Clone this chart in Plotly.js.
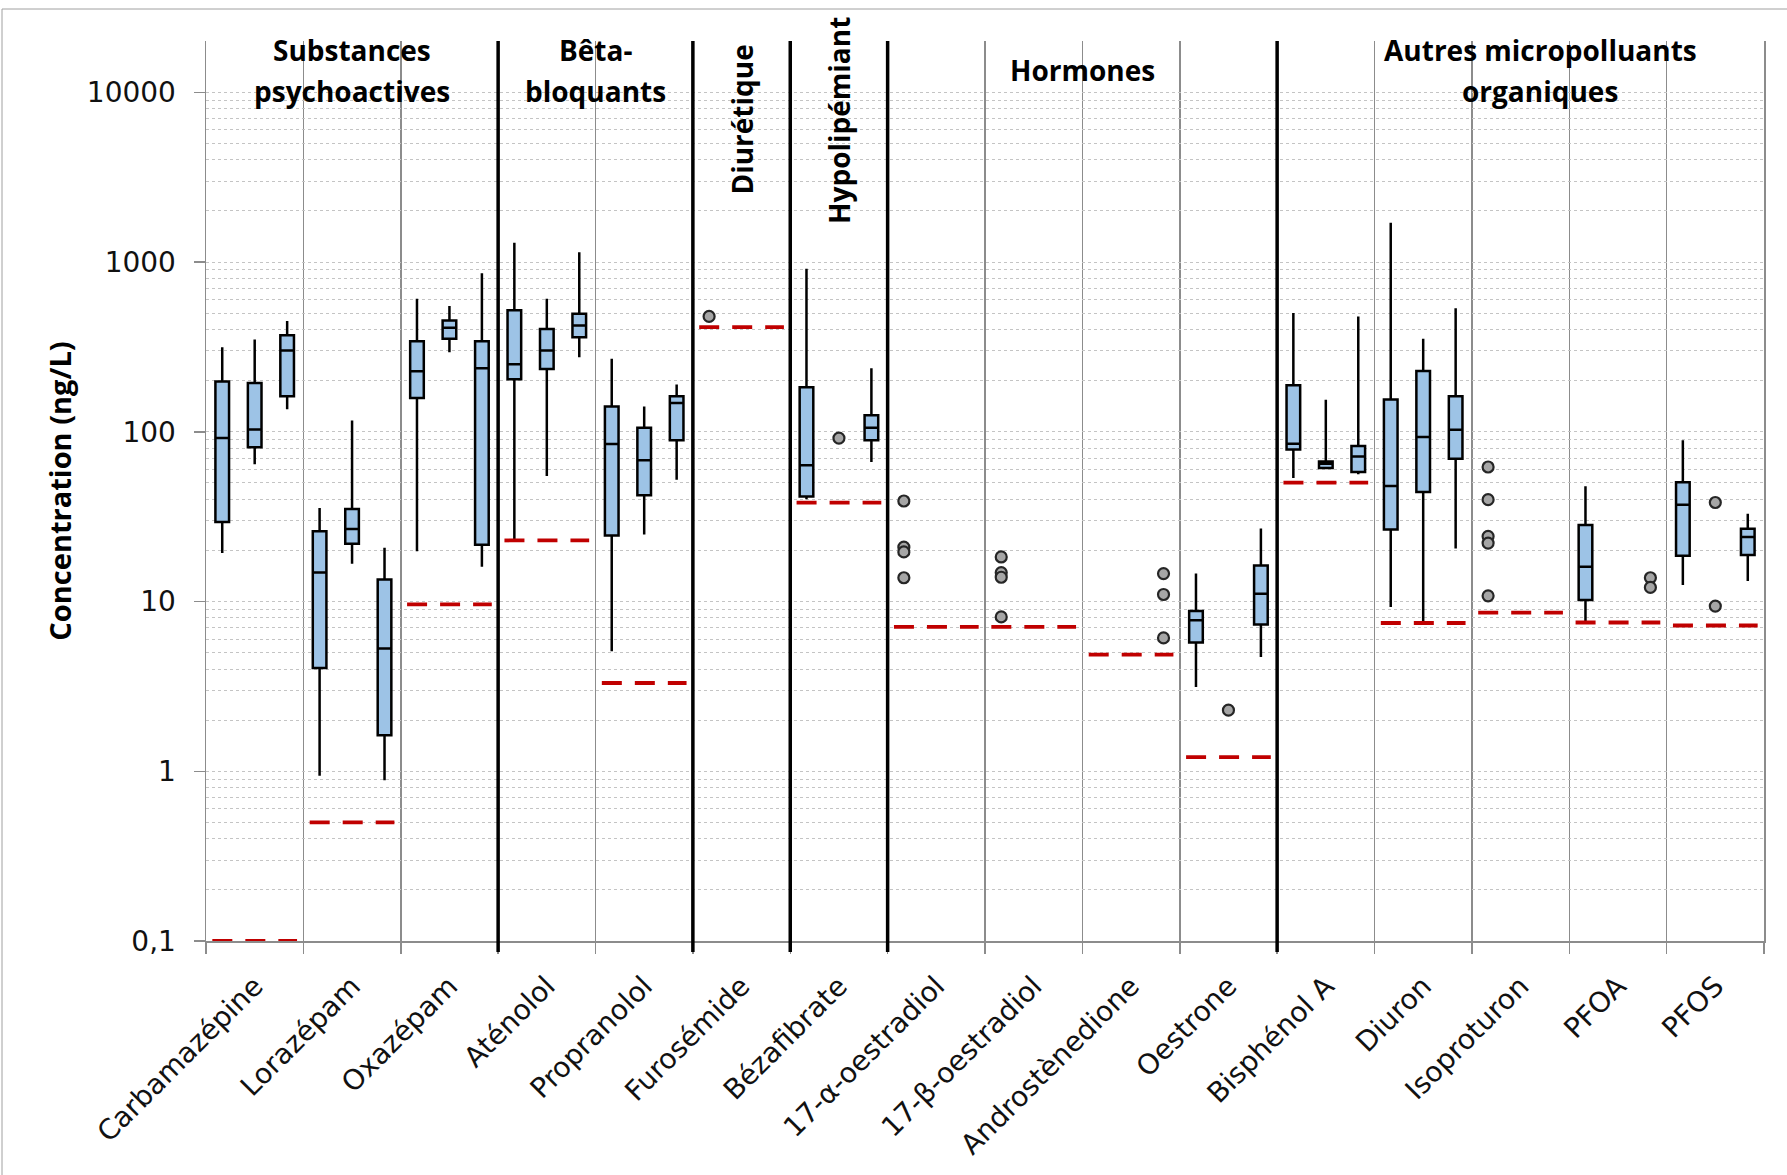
<!DOCTYPE html>
<html>
<head>
<meta charset="utf-8">
<script src="https://cdn.plot.ly/plotly-3.0.1.min.js"></script>
<style>html,body{margin:0;padding:0;background:#fff;}</style>
</head>
<body>
<div id="chart" style="width:1787px;height:1175px;"></div>
<script>
// ---------- data ----------
const categories = ['Carbamazépine','Lorazépam','Oxazépam','Aténolol','Propranolol','Furosémide','Bézafibrate',
  '17-α-oestradiol','17-β-oestradiol','Androstènedione','Oestrone','Bisphénol A','Diuron','Isoproturon','PFOA','PFOS'];

const groupNames = ['Substances<br>psychoactives','Bêta-<br>bloquants','Diurétique','Hypolipémiant','Hormones','Autres micropolluants<br>organiques'];
const groupFirst = [0, 3, 5, 6, 7, 11];
const groupLast  = [2, 4, 5, 6, 10, 15];

// box statistics (ng/L); slot 0,1,2 = three boxes within a category
const boxCategory = [0,0,0, 1,1,1, 2,2,2, 3,3,3, 4,4,4, 6,6, 10,10, 11,11,11, 12,12,12, 14, 15,15];
const boxSlot     = [0,1,2, 0,1,2, 0,1,2, 0,1,2, 0,1,2, 0,2, 0,2, 0,1,2, 0,1,2, 0, 0,2];
const boxLow    = [19.3,64.3,135.5, 0.94,16.7,0.885, 19.8,294,16.0, 23,54.8,275, 5.09,24.8,52.2, 40,66.3, 3.14,4.71, 53.4,61.1,56.1, 9.28,7.47,20.5, 7.52, 12.5,13.2];
const boxQ1     = [29.4,81,162, 4.06,21.9,1.63, 158,353,21.6, 204,234,361, 24.5,42.2,89, 41.6,89, 5.73,7.31, 78.7,61.1,57.9, 26.6,44.2,69.4, 10.2, 18.6,18.8];
const boxMedian = [91.8,103,301, 14.8,26.7,5.28, 227,410,237, 250,301,422, 84.7,67.9,147.5, 63.4,105.7, 7.75,11.1, 85,64.9,71.6, 47.9,93,102.8, 16.0, 37.1,24];
const boxQ3     = [198,194,370, 25.9,35.1,13.5, 341,453,341, 519,403,496, 141,105.7,162, 183,125, 8.79,16.3, 188,66.9,82.4, 155,228,162, 28.2, 50.4,26.8];
const boxHigh   = [315,349,449, 35.5,116.7,20.7, 608,550,860, 1300,608,1143, 269,141,190, 913,237, 14.6,26.9, 500,154.6,478, 1703,353,535, 47.8, 89,32.9];

// outliers
const outlierCategory = [5, 6, 7,7,7,7, 8,8,8,8, 9,9,9, 10, 13,13,13,13,13, 14,14, 15,15];
const outlierSlot     = [0, 1, 0,0,0,0, 0,0,0,0, 2,2,2, 1, 0,0,0,0,0, 2,2, 1,1];
const outlierValue    = [478, 91.8, 39.1,20.9,19.6,13.8, 18.3,14.8,13.9,8.11, 14.6,11.0,6.10, 2.29, 62,39.8,24.2,22.1,10.8, 13.8,12.1, 38.3,9.4];

// limits of quantification (red dashed lines), one per category
const loq = [0.1, 0.50, 9.62, 22.9, 3.31, 414, 38.2, 7.08, 7.08, 4.87, 1.21, 50.1, 7.47, 8.59, 7.52, 7.22];

const yTickVals = [0.1, 1, 10, 100, 1000, 10000];
const yTickText = ['0,1', '1', '10', '100', '1000', '10000'];

// ---------- build ----------
const slotPos = (c, s) => c + (s - 1) / 3;
const boxX = boxCategory.map((c, i) => slotPos(c, boxSlot[i]));
const outX = outlierCategory.map((c, i) => slotPos(c, outlierSlot[i]));

const loqX = [], loqY = [];
loq.forEach((v, i) => { loqX.push(i - 0.435, i + 0.435, null); loqY.push(v, v, null); });

const traces = [
  {
    type: 'scatter', mode: 'lines', x: loqX, y: loqY,
    line: {color: '#c00000', width: 3.8, dash: '20px,13px'},
    hoverinfo: 'skip', showlegend: false
  },
  {
    type: 'box', x: boxX, q1: boxQ1, median: boxMedian, q3: boxQ3,
    lowerfence: boxLow, upperfence: boxHigh,
    width: 0.14, whiskerwidth: 0, boxpoints: false,
    fillcolor: '#9DC3E6', line: {color: '#000000', width: 2.5},
    hoverinfo: 'skip', showlegend: false
  },
  {
    type: 'scatter', mode: 'markers', x: outX, y: outlierValue,
    marker: {size: 11, color: '#a6a6a6', line: {color: '#262626', width: 2.2}},
    hoverinfo: 'skip', showlegend: false
  }
];

const halfTicks = [];
for (let i = 0; i <= categories.length; i++) halfTicks.push(i - 0.5);
const minorY = [];
for (let d = -1; d <= 4; d++) for (let m = 2; m <= 9; m++) minorY.push(m * Math.pow(10, d));
minorY.push(20000);

const PLOT_H = 900, PLOT_W = 1558, ML = 206, MT = 41;
const pxToPaperY = py => (MT + PLOT_H - py) / PLOT_H;
const shapes = [];
groupLast.slice(0, -1).forEach(g => {
  shapes.push({type: 'line', xref: 'x', yref: 'paper', x0: g + 0.5, x1: g + 0.5, y0: -11 / PLOT_H, y1: 1,
    line: {color: '#000000', width: 3.5}, layer: 'above'});
});
// chart-area border
shapes.push({type: 'rect', xref: 'paper', yref: 'paper',
  x0: (2 - ML) / PLOT_W, x1: (1795 - ML) / PLOT_W, y0: pxToPaperY(1185), y1: pxToPaperY(9),
  line: {color: '#a0a0a0', width: 1}, fillcolor: 'rgba(0,0,0,0)', layer: 'below'});

const titleFont = {family: 'Open Sans', size: 28, color: '#000000', weight: 'bold'};
const groupShift = [0, 0, 0, 0, 0, 0.2];
const groupAngle = [0, 0, -90, -90, 0, 0];
const annotations = [];
groupNames.forEach((t, i) => {
  const xc = (groupFirst[i] + groupLast[i]) / 2 + groupShift[i];
  const lines = t.split('<br>');
  let ys;
  if (groupAngle[i] !== 0) ys = [120];
  else if (lines.length === 2) ys = [50.5, 90.5];
  else ys = [70];
  lines.forEach((ln, k) => annotations.push({
    text: ln, xref: 'x', yref: 'paper', x: xc, y: pxToPaperY(ys[k]),
    xanchor: 'center', yanchor: 'middle', textangle: groupAngle[i],
    showarrow: false, font: titleFont, align: 'center'
  }));
});

const tickFont = {family: 'DejaVu Sans', size: 28, color: '#111111'};

const layout = {
  width: 1787, height: 1175,
  margin: {l: ML, r: 1787 - ML - PLOT_W, t: MT, b: 1175 - MT - PLOT_H, pad: 0},
  paper_bgcolor: '#ffffff', plot_bgcolor: '#ffffff',
  showlegend: false,
  xaxis: {
    range: [-0.5, categories.length - 0.5],
    tickmode: 'array', tickvals: categories.map((c, i) => i), ticktext: categories,
    tickangle: -45, ticks: '', tickfont: tickFont, ticklabelstandoff: 16,
    showgrid: false, zeroline: false,
    showline: true, linecolor: '#8c8c8c', linewidth: 1.5,
    minor: {tickmode: 'array', tickvals: halfTicks, ticks: 'outside', ticklen: 11, tickwidth: 1.5,
      tickcolor: '#8c8c8c', showgrid: true, gridcolor: '#8c8c8c', gridwidth: 1.5}
  },
  yaxis: {
    type: 'log', range: [-1, Math.log10(20000) + 0.001],
    tickmode: 'array', tickvals: yTickVals, ticktext: yTickText,
    ticks: 'outside', ticklen: 11, tickwidth: 1.5, tickcolor: '#8c8c8c',
    tickfont: tickFont, ticklabelstandoff: 12,
    showline: true, mirror: true, linecolor: '#8c8c8c', linewidth: 1.5,
    showgrid: true, gridcolor: '#c4c4c4', gridwidth: 1, griddash: 'dot', zeroline: false,
    minor: {tickmode: 'array', tickvals: minorY, ticks: '', showgrid: true, gridcolor: '#c4c4c4', gridwidth: 1, griddash: 'dot'},
    title: {text: 'Concentration (ng/L)', font: {family: 'Open Sans', size: 29, color: '#000000', weight: 'bold'}, standoff: 6}
  },
  shapes: shapes,
  annotations: annotations
};

Plotly.newPlot('chart', traces, layout, {staticPlot: true, displayModeBar: false});
</script>
</body>
</html>
